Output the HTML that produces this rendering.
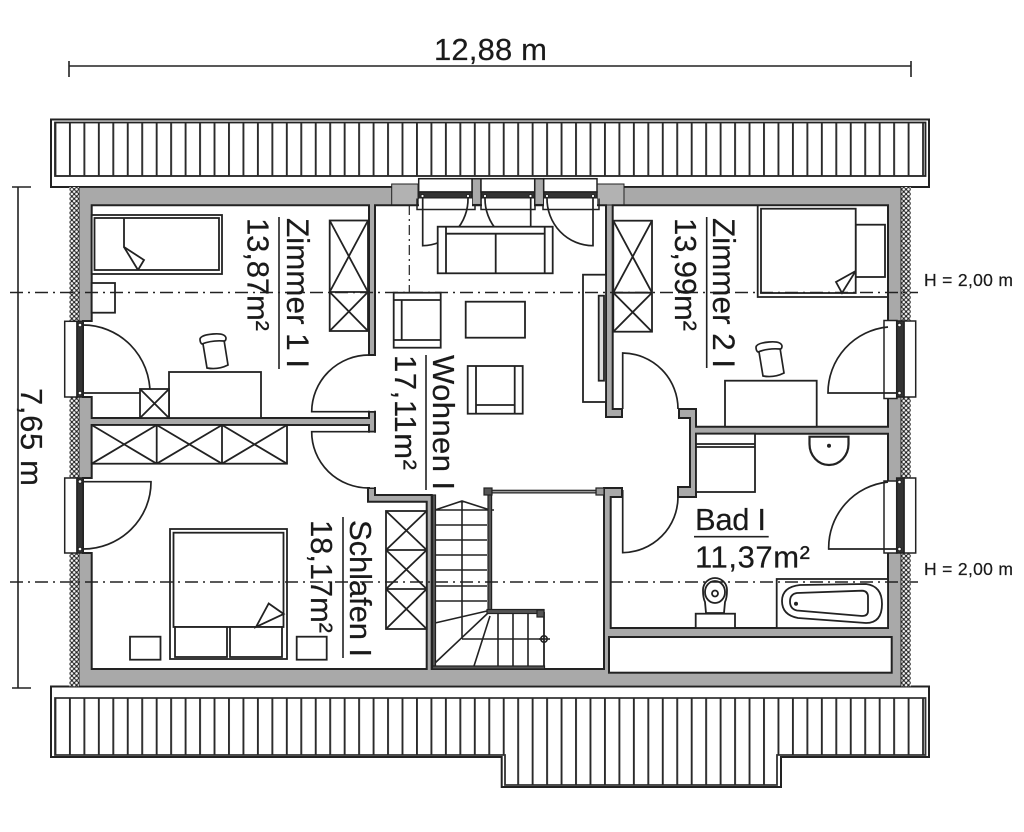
<!DOCTYPE html>
<html><head><meta charset="utf-8"><title>Grundriss</title>
<style>html,body{margin:0;padding:0;background:#fff;width:1024px;height:832px;overflow:hidden}svg{display:block}
text{font-family:"Liberation Sans",sans-serif;fill:#1a1a1a;stroke:#1a1a1a;stroke-width:.2}</style></head><body>
<svg width="1024" height="832" viewBox="0 0 1024 832" xmlns="http://www.w3.org/2000/svg">
<defs>
<pattern id="raf" patternUnits="userSpaceOnUse" x="54.5" y="0" width="14.46" height="20"><rect x="0" y="0" width="1.9" height="20" fill="#2a2a2a"/></pattern>
<pattern id="chk" patternUnits="userSpaceOnUse" x="69.5" y="187" width="4.7" height="4.7"><rect width="4.7" height="4.7" fill="#222"/><circle cx="2.35" cy="2.35" r="1.3" fill="#f4f4f4"/><circle cx="0" cy="0" r="1.3" fill="#f4f4f4"/><circle cx="4.7" cy="0" r="1.3" fill="#f4f4f4"/><circle cx="0" cy="4.7" r="1.3" fill="#f4f4f4"/><circle cx="4.7" cy="4.7" r="1.3" fill="#f4f4f4"/></pattern>
<g id="chair" fill="#fff" stroke="#222" stroke-width="1.7"><path d="M-11.5 -12 L-7 15 Q4 17 14 12 L10 -13 Z"/><path d="M-14 -14 Q-13 -18 -1 -19 Q11 -20 12 -15 Q12 -12 10 -12 Q-2 -13 -12 -9 Q-14 -10 -14 -14 Z"/></g>
</defs>

<!-- dimensions -->
<text x="434" y="60" font-size="31" textLength="113" lengthAdjust="spacing">12,88 m</text>
<path d="M69 66H911M69 61V77M911 61V77" stroke="#222" stroke-width="1.6" fill="none"/>
<path d="M18 187V688M12 187H31M12 688H31" stroke="#222" stroke-width="1.6" fill="none"/>
<text transform="translate(21,388) rotate(90)" font-size="31" textLength="98" lengthAdjust="spacing">7,65 m</text>

<!-- top roof -->
<rect x="51" y="119.5" width="878" height="67.5" fill="#fff" stroke="#222" stroke-width="2"/>
<rect x="55" y="122.5" width="870.5" height="53.5" fill="#fff" stroke="#222" stroke-width="1.8"/>
<rect x="55" y="123" width="871" height="53" fill="url(#raf)"/>
<!-- bottom roof -->
<polygon points="51,686.5 929,686.5 929,757 781,757 781,787 501.7,787 501.7,757 51,757" fill="#fff" stroke="#222" stroke-width="2"/>
<path d="M55 698H925.5V755H777V785H505V755H55Z" fill="#fff" stroke="#333" stroke-width="1.8"/>
<rect x="55" y="698" width="871" height="57" fill="url(#raf)"/>
<rect x="505" y="755" width="272" height="30" fill="url(#raf)"/>

<!-- house -->
<rect x="78.6" y="187" width="822.8" height="499.5" fill="#a9a9a9" stroke="#222" stroke-width="1.8"/>
<rect x="69.5" y="187" width="9.3" height="499.5" fill="url(#chk)"/>
<rect x="901.4" y="187" width="9.3" height="499.5" fill="url(#chk)"/>
<path d="M391.7 184H418V205H391.7ZM597 184H624V205H597Z" fill="#b2b2b2" stroke="#222" stroke-width="1"/>

<!-- main white area -->
<polygon fill="#fff" stroke="#222" stroke-width="2" points="91.7,205.3 369,205.3 369,355 375,355 375,205.3 606,205.3 606,417 622,417 622,409 612.7,409 612.7,205.3 888,205.3 888,426.7 696,426.7 696,409 679,409 679,418 690,418 690,487 678,487 678,497 696,497 696,433.7 888,433.7 888,628 610.7,628 610.7,497 622,497 622,488 604,488 604,669 431.7,669 431.7,495 375,495 375,488 368,488 368,501.7 426.7,501.7 426.7,669 91.7,669 91.7,553 83,553 83,478 91.7,478 91.7,425 369,425 369,431.7 375,431.7 375,411.7 369,411.7 369,418 91.7,418 91.7,397 83,397 83,321 91.7,321"/>
<!-- door openings fix -->
<rect x="370" y="356" width="4" height="55" fill="#fff"/>
<rect x="370" y="432.5" width="4" height="55" fill="#fff"/>

<!-- closet in bath -->
<rect x="609" y="637" width="282.7" height="35.7" fill="#fff" stroke="#222" stroke-width="2"/>

<!-- top windows -->
<g stroke="#222" stroke-width="1.5">
<rect x="472" y="178.7" width="9" height="26" fill="#aaa"/><rect x="534.7" y="178.7" width="9" height="26" fill="#aaa"/>
<g fill="#fff">
<rect x="418.7" y="178.7" width="53.3" height="13.3"/><rect x="481" y="178.7" width="53.7" height="13.3"/><rect x="543.7" y="178.7" width="53.3" height="13.3"/>
</g>
<g fill="#333"><rect x="419" y="192" width="53" height="6"/><rect x="481.5" y="192" width="53" height="6"/><rect x="544" y="192" width="53" height="6"/></g>
</g>
<g fill="#fff"><rect x="419" y="198.5" width="53" height="10"/><rect x="482" y="198.5" width="52" height="10"/><rect x="544" y="198.5" width="53" height="10"/></g>
<path d="M417 198.5V209.5H475V205M481 205V209.5H535V205M543 205V209.5H599V198.5" fill="none" stroke="#222" stroke-width="1.5"/>
<g fill="#fff" stroke="#222" stroke-width="1"><circle cx="422.5" cy="196" r="1.6"/><circle cx="468" cy="196" r="1.6"/><circle cx="485" cy="196" r="1.6"/><circle cx="530.5" cy="196" r="1.6"/><circle cx="547" cy="196" r="1.6"/><circle cx="593" cy="196" r="1.6"/></g>

<!-- left windows -->
<g stroke="#222" stroke-width="1.5">
<rect x="64.7" y="321.3" width="12.3" height="75.7" fill="#fff"/><rect x="77" y="321.3" width="6" height="75.7" fill="#333"/>
<rect x="64.7" y="478" width="12.3" height="75" fill="#fff"/><rect x="77" y="478" width="6" height="75" fill="#333"/>
<!-- right windows -->
<rect x="884" y="320.5" width="13" height="78" fill="#fff"/><rect x="904" y="321" width="11.7" height="76" fill="#fff"/><rect x="896.7" y="321" width="7.3" height="76" fill="#333"/>
<rect x="884" y="481" width="13" height="72" fill="#fff"/><rect x="904" y="478" width="11.7" height="75" fill="#fff"/><rect x="896.7" y="478" width="7.3" height="75" fill="#333"/>
</g>
<g fill="#fff" stroke="#222" stroke-width="1"><circle cx="80" cy="325" r="1.8"/><circle cx="80" cy="393" r="1.8"/><circle cx="80" cy="481.5" r="1.8"/><circle cx="80" cy="549" r="1.8"/><circle cx="899.5" cy="325" r="1.8"/><circle cx="899.5" cy="393" r="1.8"/><circle cx="899.5" cy="482" r="1.8"/><circle cx="899.5" cy="549" r="1.8"/></g>

<!-- doors -->
<g fill="none" stroke="#222" stroke-width="1.7">
<path d="M83 393H150A67 68 0 0 0 83 325"/>
<path d="M83 481.7H151A68 67 0 0 1 83 549"/>
<path d="M369 411.7H311.7A57 57 0 0 1 369 355"/>
<path d="M369 431.7H311.7A57 56 0 0 0 369 488"/>
<path d="M422.7 198V245.7A46 47 0 0 0 468 198"/>
<path d="M530.7 198V245.7A46 47 0 0 1 485 198"/>
<path d="M593 198V245.7A46 47 0 0 1 547 198"/>
<path d="M622.7 409V353A56 56 0 0 1 678 409"/>
<path d="M622.7 490V552.7A56 56 0 0 0 678 497"/>
<path d="M896 393H828A66 66 0 0 1 888 327"/>
<path d="M896 549H828.7A66 66 0 0 1 888 482"/>
</g>

<!-- furniture -->
<g fill="#fff" stroke="#222" stroke-width="1.8">
<!-- bed Z1 -->
<rect x="91.7" y="215" width="130.3" height="59"/><rect x="94.5" y="218" width="124.5" height="52"/>
<path d="M124 218V247L144 260L138 270" fill="#fff"/><path d="M124 247L138 270" />
<rect x="91.7" y="283" width="23.3" height="29.7"/>
<!-- wardrobe Z1 -->
<rect x="329.7" y="220.5" width="38.3" height="110.5"/>
<path d="M329.7 292H368M329.7 220.5L368 292M368 220.5L329.7 292M329.7 292L368 331M368 292L329.7 331" fill="none"/>
<!-- desk Z1 -->
<rect x="169" y="372" width="92" height="46"/>
<rect x="140" y="389" width="29" height="29"/><path d="M140 389L169 418M169 389L140 418" fill="none"/>
<!-- wardrobe row -->
<rect x="91.7" y="425" width="195.3" height="38.7"/>
<path d="M156.7 425V463.7M222 425V463.7M91.7 425L156.7 463.7M156.7 425L91.7 463.7M156.7 425L222 463.7M222 425L156.7 463.7M222 425L287 463.7M287 425L222 463.7" fill="none"/>
<!-- bed Schlafen -->
<rect x="170" y="529" width="117" height="130"/><rect x="173.5" y="532.7" width="110" height="94.3"/>
<rect x="175" y="627" width="52" height="30"/><rect x="230" y="627" width="52" height="30"/>
<path d="M256 627L268.7 603.5L283.7 614Z"/>
<rect x="130" y="636.7" width="30.5" height="23"/><rect x="296.7" y="636.7" width="30" height="23"/>
<!-- wardrobe Schlafen -->
<rect x="386" y="511" width="40.7" height="118"/>
<path d="M386 550H426.7M386 589H426.7M386 511L426.7 550M426.7 511L386 550M386 550L426.7 589M426.7 550L386 589M386 589L426.7 629M426.7 589L386 629" fill="none"/>
<!-- sofa -->
<rect x="437.7" y="226.7" width="115" height="46.6"/>
<path d="M446 226.7V273.3M544.7 226.7V273.3M446 233.7H544.7M495.7 233.7V273.3" fill="none"/>
<!-- armchairs, table -->
<rect x="393.7" y="292.7" width="47" height="55"/><path d="M393.7 300H440.7M401.7 300V340M393.7 340H440.7" fill="none"/>
<rect x="465.7" y="301.7" width="59.3" height="36"/>
<rect x="467.7" y="366" width="55" height="47.7"/><path d="M476 366V413.7M514.7 366V413.7M476 405H514.7" fill="none"/>
<!-- TV unit -->
<rect x="583" y="274.7" width="23" height="127.3"/><rect x="598.7" y="295.7" width="5.3" height="85" fill="#ddd"/>
<!-- wardrobe Z2 -->
<rect x="613.3" y="220.7" width="38.7" height="111"/>
<path d="M613.3 292.7H652M613.3 220.7L652 292.7M652 220.7L613.3 292.7M613.3 292.7L652 331.7M652 292.7L613.3 331.7" fill="none"/>
<!-- bed Z2 -->
<path d="M888 297H757.7V205.3" fill="none"/>
<rect x="855.7" y="224.7" width="29.3" height="52.3"/>
<rect x="761" y="208.7" width="94.7" height="84.3"/>
<path d="M855.7 271L836 282L842 293Z"/>
<!-- desk Z2 -->
<rect x="725" y="380.7" width="91.7" height="46"/>
<!-- bath -->
<rect x="696" y="433.7" width="59" height="58.3"/><path d="M696 444H755M696 447H755" fill="none"/>
<path d="M809.5 436.7H848.5V444A19.5 21 0 0 1 809.5 444Z" stroke-width="2.2"/>
<rect x="776.7" y="579" width="111.3" height="49"/>
<path d="M800 585L866 584Q882 586 882 604Q882 623 866 623L798 618Q782 615 782 601Q782 587 800 585Z"/>
<path d="M797 593L862 590.7Q868 591 868 597V611Q868 616 862 616L797 610.5Q790 609 790 601.5Q790 594 797 593Z"/>
<!-- WC -->
<rect x="695.7" y="613.7" width="39.3" height="14.3"/>
<path d="M706 613L705 602Q703 598 703 590A12 12 0 0 1 727 590Q727 598 725 602L724 613Z"/>
<ellipse cx="715" cy="592" rx="10" ry="11"/>
<circle cx="715" cy="593.5" r="3" fill="none"/>
</g>
<circle cx="829" cy="445.7" r="2" fill="#222"/><circle cx="796" cy="603.7" r="2" fill="#222"/>
<use href="#chair" x="214" y="353"/>
<use href="#chair" x="770" y="361"/>

<!-- stairs -->
<g fill="none" stroke="#222" stroke-width="1.6">
<path d="M435 510H494M435 525H487M435 540H487M435 555H487M435 570H487M435 586H487M435 601H487M435 510L462 501L490 510M462 501V639M435 623L487 611M435 663L488 613M474 666L490 616M498 614V666M513 614V666M528 614V666M462 639H544"/>
<circle cx="544" cy="639" r="3.2"/><path d="M539 639H550"/>
<path d="M544 612V668" stroke-width="1.8"/>
</g>
<g fill="#555" stroke="#222" stroke-width="1.2">
<rect x="432.5" y="495" width="3" height="172"/>
<rect x="488" y="490" width="3.6" height="122"/>
<rect x="487" y="609.5" width="57" height="4"/>
<rect x="432.5" y="666" width="112" height="3"/>
<rect x="537" y="610" width="7" height="7"/>
<rect x="484" y="488" width="8" height="7"/>
<rect x="596" y="488" width="8" height="7" fill="#999"/>
<rect x="492" y="490.3" width="104" height="2.6" fill="#999"/>
</g>

<!-- dash-dot lines -->
<g fill="none" stroke="#222" stroke-width="1.4" stroke-dasharray="13 5 2 5">
<path d="M10 292.5H918"/><path d="M10 582H918"/>
</g>
<path d="M409.3 205V292" fill="none" stroke="#222" stroke-width="1.2" stroke-dasharray="10 4 2 4"/>

<!-- labels -->
<text x="924" y="286" font-size="17.5" textLength="89" lengthAdjust="spacing">H = 2,00 m</text>
<text x="924" y="575" font-size="17.5" textLength="89" lengthAdjust="spacing">H = 2,00 m</text>
<text x="695" y="530" font-size="31" textLength="71" lengthAdjust="spacing">Bad I</text>
<path d="M694 536.7H768.7" stroke="#222" stroke-width="1.6"/>
<text x="695" y="567.7" font-size="31" textLength="115" lengthAdjust="spacing">11,37m²</text>

<text transform="translate(287,218) rotate(90)" font-size="31.5" textLength="150" lengthAdjust="spacing">Zimmer 1 I</text>
<text transform="translate(247.5,218) rotate(90)" font-size="31" textLength="113" lengthAdjust="spacing">13,87m²</text>
<path d="M279 217V369" stroke="#222" stroke-width="1.6"/>
<text transform="translate(713,218) rotate(90)" font-size="31.5" textLength="150" lengthAdjust="spacing">Zimmer 2 I</text>
<text transform="translate(675,218) rotate(90)" font-size="31" textLength="113" lengthAdjust="spacing">13,99m²</text>
<path d="M706.7 217V368" stroke="#222" stroke-width="1.6"/>
<text transform="translate(433,355) rotate(90)" font-size="31" textLength="135" lengthAdjust="spacing">Wohnen I</text>
<text transform="translate(395,355) rotate(90)" font-size="31" textLength="115" lengthAdjust="spacing">17,11m²</text>
<path d="M426 355V490" stroke="#222" stroke-width="1.6"/>
<text transform="translate(350,520) rotate(90)" font-size="31" textLength="137" lengthAdjust="spacing">Schlafen I</text>
<text transform="translate(311,520) rotate(90)" font-size="31" textLength="113" lengthAdjust="spacing">18,17m²</text>
<path d="M343 517V658" stroke="#222" stroke-width="1.6"/>
</svg>
</body></html>
